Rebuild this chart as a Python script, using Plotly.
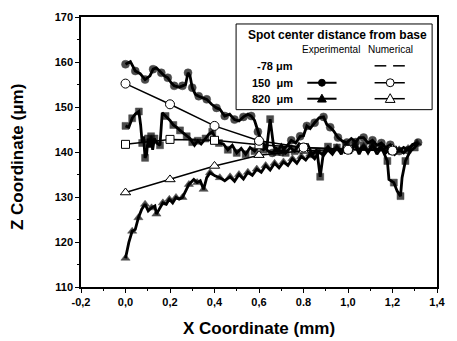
import plotly.graph_objects as go

# ---------------- data ----------------
x_tick_vals = [-0.2, 0.0, 0.2, 0.4, 0.6, 0.8, 1.0, 1.2, 1.4]
x_tick_text = ["-0,2", "0,0", "0,2", "0,4", "0,6", "0.8", "1,0", "1,2", "1,4"]
y_tick_vals = [110, 120, 130, 140, 150, 160, 170]

# Experimental, 150 um (filled circles)
exp150_x = [0.000, 0.022, 0.044, 0.066, 0.088, 0.110, 0.124, 0.139, 0.161, 0.175, 0.190, 0.205,
            0.219, 0.241, 0.256, 0.270, 0.281, 0.290, 0.300, 0.314, 0.329, 0.344, 0.365, 0.387,
            0.409, 0.424, 0.446, 0.468, 0.49, 0.51, 0.53, 0.55, 0.565, 0.58, 0.595, 0.61, 0.625,
            0.64, 0.66, 0.68, 0.70, 0.72, 0.745, 0.765, 0.785, 0.80, 0.815, 0.83, 0.85, 0.87,
            0.89, 0.905, 0.92, 0.935, 0.955, 0.975, 0.995, 1.015, 1.035, 1.05, 1.07, 1.09, 1.11,
            1.13, 1.15, 1.17, 1.19, 1.21, 1.23, 1.25, 1.27, 1.29, 1.315]
exp150_y = [159.5, 160.1, 158.0, 157.4, 156.1, 156.9, 158.4, 158.7, 157.6, 156.9, 156.5, 155.4,
            154.7, 154.4, 154.7, 155.0, 157.6, 156.9, 154.3, 152.8, 152.4, 152.1, 151.7, 150.6,
            149.8, 149.5, 148.0, 148.4, 147.2, 146.9, 147.8, 148.4, 148.0, 147.0, 144.5, 142.4, 141.5,
            140.2, 139.8, 140.8, 140.0, 141.0, 142.6, 142.0, 143.5, 143.6, 145.8, 145.2, 146.5, 147.6,
            147.8, 146.1, 145.5, 144.7, 143.2, 142.4, 142.1, 143.0, 142.2, 143.2, 143.2, 142.0, 142.6,
            141.5, 142.0, 141.0, 141.6, 140.5, 140.2, 141.0, 140.4, 141.7, 142.1]

# Experimental, -78 um (filled squares)
expm78_x = [0.000, 0.015, 0.03, 0.045, 0.06, 0.068, 0.075, 0.081, 0.088, 0.095, 0.101, 0.108,
            0.115, 0.122, 0.13, 0.14, 0.155, 0.165, 0.18, 0.20, 0.215, 0.23, 0.245, 0.26, 0.275,
            0.29, 0.30, 0.31, 0.325, 0.34, 0.36, 0.375, 0.39, 0.40, 0.42, 0.44, 0.46, 0.48, 0.50,
            0.52, 0.54, 0.56, 0.58, 0.60, 0.62, 0.635, 0.65, 0.665, 0.68, 0.70, 0.72, 0.74, 0.76,
            0.78, 0.80, 0.82, 0.84, 0.86, 0.875, 0.89, 0.91, 0.93, 0.95, 0.97, 0.99, 1.01, 1.03,
            1.05, 1.07, 1.09, 1.11, 1.13, 1.15, 1.165, 1.177, 1.184, 1.206, 1.221, 1.236, 1.243,
            1.258, 1.28, 1.30, 1.316]
expm78_y = [145.8, 145.5, 147.5, 148.5, 149.0, 146.0, 142.0, 143.5, 138.7, 139.5, 143.0, 141.0,
            143.5, 140.5, 143.0, 142.0, 141.5, 148.7, 148.0, 147.0, 146.0, 145.5, 144.8, 144.2, 143.5,
            143.0, 142.2, 141.5, 142.5, 141.8, 143.0, 144.0, 144.5, 143.5, 142.0, 141.8, 140.5, 141.5, 139.8,
            140.8, 139.5, 141.0, 140.2, 141.5, 140.5, 141.0, 147.3, 141.5, 140.0, 141.5, 139.8, 141.0, 140.2,
            141.8, 140.5, 141.5, 139.5, 140.5, 134.5, 140.0, 141.2, 140.0, 141.0, 139.5, 141.5, 140.0, 141.8,
            139.5, 141.5, 139.8, 141.5, 139.5, 141.0, 139.5, 138.0, 133.9, 133.2, 131.3, 130.2, 134.3,
            138.0, 140.2, 141.0, 142.1]

# Experimental, 820 um (filled triangles)
exp820_x = [0.000, 0.015, 0.03, 0.044, 0.058, 0.073, 0.088, 0.102, 0.117, 0.132, 0.139, 0.154,
            0.168, 0.183, 0.197, 0.212, 0.227, 0.241, 0.256, 0.270, 0.285, 0.307, 0.322, 0.336,
            0.351, 0.365, 0.380, 0.402, 0.424, 0.446, 0.47, 0.49, 0.51, 0.53, 0.55, 0.57, 0.59,
            0.61, 0.63, 0.65, 0.67, 0.69, 0.71, 0.73, 0.75, 0.77, 0.79, 0.81, 0.83, 0.85, 0.87,
            0.89, 0.91, 0.93, 0.95, 0.97, 0.99, 1.01, 1.03, 1.05, 1.07, 1.09, 1.11, 1.13, 1.15,
            1.17, 1.19, 1.21, 1.23, 1.25, 1.27, 1.29, 1.31]
exp820_y = [116.4, 119.9, 122.4, 122.8, 125.4, 127.3, 128.4, 126.9, 127.6, 128.0, 126.2, 127.6,
            128.7, 128.4, 129.5, 128.7, 129.9, 129.5, 129.9, 131.3, 132.8, 133.9, 133.2, 133.6,
            131.7, 134.3, 135.4, 134.7, 134.3, 133.6, 134.5, 133.5, 135.0, 134.0, 135.5, 134.8, 136.2,
            135.5, 137.0, 136.0, 137.5, 136.5, 137.8, 137.0, 138.5, 137.5, 139.0, 138.2, 139.5, 138.5, 140.0,
            139.2, 140.5, 139.5, 141.0, 140.0, 141.2, 140.2, 141.5, 140.5, 141.2, 140.0, 141.5, 140.5, 141.0,
            139.8, 140.8, 139.5, 140.5, 139.8, 140.8, 141.5, 142.0]

# Numerical results (open symbols)
num_x = [0.0, 0.2, 0.4, 0.6, 0.8, 1.0, 1.2]
numm78_y = [141.7, 142.8, 142.6, 141.6, 141.0, 140.6, 140.4]
num150_y = [155.2, 150.6, 145.8, 142.5, 141.0, 140.5, 140.3]
num820_y = [131.0, 133.9, 136.9, 139.3, 140.3, 140.6, 140.7]

# ---------------- figure ----------------
W, H = 457, 341
# plot area in page pixels
L, R, T, B = 81, 446, 16, 287
FONT = "Liberation Sans, Arial, sans-serif"


def pxx(p):
    return (p - L) / (R - L)


def pxy(p):
    return (B - p) / (B - T)


def sizes(n, s, step=2):
    return [s if i % step == 0 else 0 for i in range(n)]


fig = go.Figure()


def add_exp(xs, ys, symbol, msize):
    fig.add_trace(go.Scatter(
        x=xs, y=ys, mode="lines+markers",
        line=dict(color="black", width=2.8),
        marker=dict(symbol=symbol, color="black", size=sizes(len(xs), msize),
                    line=dict(width=0.5, color="black")),
        showlegend=False, hoverinfo="skip"))


def add_num(ys, symbol, msize):
    fig.add_trace(go.Scatter(
        x=num_x, y=ys, mode="lines+markers",
        line=dict(color="black", width=1.5),
        marker=dict(symbol=symbol, color="white", size=msize,
                    line=dict(color="black", width=1)),
        showlegend=False, hoverinfo="skip"))


add_exp(expm78_x, expm78_y, "square", 7)
add_exp(exp820_x, exp820_y, "triangle-up", 8)
add_exp(exp150_x, exp150_y, "circle", 8)
add_num(numm78_y, "square", 8)
add_num(num820_y, "triangle-up", 9)
add_num(num150_y, "circle", 9)

axis_common = dict(showline=True, linecolor="black", linewidth=1.6, mirror=True,
                   ticks="outside", ticklen=4, tickwidth=1.2, tickcolor="black",
                   showgrid=False, zeroline=False,
                   tickfont=dict(family=FONT, size=11, color="black"))

fig.update_xaxes(range=[-0.2, 1.4], tickvals=x_tick_vals,
                 ticktext=["<b>%s</b>" % t for t in x_tick_text],
                 minor=dict(dtick=0.1, ticks="outside", ticklen=2.5, tickcolor="black"),
                 **axis_common)
fig.update_yaxes(range=[110, 170], tickvals=y_tick_vals,
                 ticktext=["<b>%d</b>" % v for v in y_tick_vals],
                 minor=dict(dtick=5, ticks="outside", ticklen=2.5, tickcolor="black"),
                 **axis_common)

shapes = []
annotations = []


def ann(text, x, y, size, xanchor="center", angle=0):
    annotations.append(dict(text=text, x=pxx(x), y=pxy(y), xref="paper", yref="paper",
                            showarrow=False, xanchor=xanchor, yanchor="middle", textangle=angle,
                            font=dict(family=FONT, size=size, color="black")))


# axis titles
ann("<b>X Coordinate (mm)</b>", 264, 329, 17)
ann("<b>Z Coordinate (\u03bcm)</b>", 16, 157, 17, angle=-90)

# legend box
shapes.append(dict(type="rect", xref="paper", yref="paper", x0=pxx(240), x1=pxx(441),
                   y0=pxy(109), y1=pxy(23), line=dict(color="black", width=1),
                   fillcolor="white", layer="above"))
ann("<b>Spot center distance from base</b>", 344, 34, 12)
ann("Experimental", 337, 49, 10)
ann("Numerical", 398, 49, 10)
row_labels = ["<b>-78 \u03bcm</b>", "<b>150  \u03bcm</b>", "<b>820  \u03bcm</b>"]
row_y = [65, 82, 98]
for lab, ry in zip(row_labels, row_y):
    ann(lab, 300, ry, 11, xanchor="right")


# legend samples
def lseg(x0, x1, y, w=1.5):
    shapes.append(dict(type="line", xref="paper", yref="paper", x0=pxx(x0), x1=pxx(x1),
                       y0=pxy(y), y1=pxy(y), line=dict(color="black", width=w), layer="above"))


def lcircle(cx, cy, r, filled):
    shapes.append(dict(type="circle", xref="paper", yref="paper", x0=pxx(cx - r), x1=pxx(cx + r),
                       y0=pxy(cy + r), y1=pxy(cy - r), line=dict(color="black", width=1),
                       fillcolor="black" if filled else "white", layer="above"))


def ltri(cx, cy, r, filled):
    path = "M %f %f L %f %f L %f %f Z" % (pxx(cx - r), pxy(cy + r * 0.75), pxx(cx + r), pxy(cy + r * 0.75),
                                           pxx(cx), pxy(cy - r))
    shapes.append(dict(type="path", xref="paper", yref="paper", path=path,
                       line=dict(color="black", width=1),
                       fillcolor="black" if filled else "white", layer="above"))


# -78: numerical dashed only
lseg(382, 394, 65)
lseg(401, 413, 65)
# 150
lseg(313, 343, 82, w=2)
lcircle(328, 82, 3.5, True)
lseg(382, 413, 82)
lcircle(398, 82, 4, False)
# 820
lseg(313, 343, 98, w=2)
ltri(328, 98, 4.5, True)
lseg(382, 413, 98)
ltri(398, 98, 5, False)

fig.update_layout(width=W, height=H,
                  margin=dict(l=L, r=W - R, t=T, b=H - B),
                  plot_bgcolor="white", paper_bgcolor="white",
                  font=dict(family=FONT, color="black"),
                  shapes=shapes, annotations=annotations, showlegend=False)

fig.write_html("out.html", config={"displayModeBar": False},
               post_script="document.body.style.margin='0px';document.body.style.overflow='hidden';")
